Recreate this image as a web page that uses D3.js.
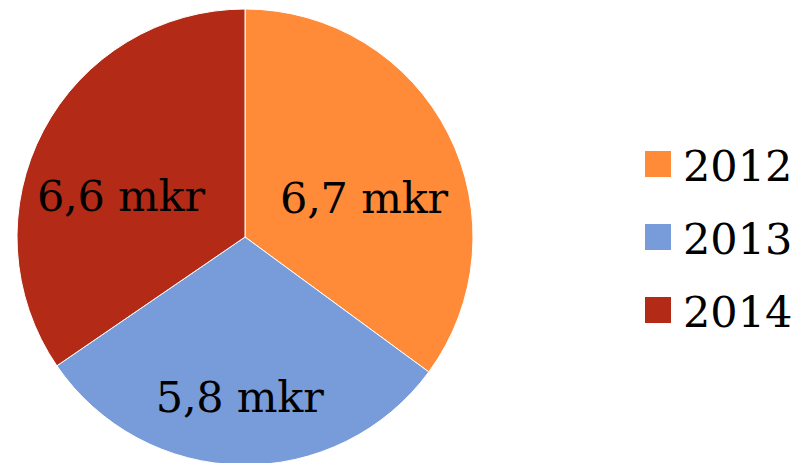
<!DOCTYPE html>
<html>
<head>
<meta charset="utf-8">
<script src="https://cdn.jsdelivr.net/npm/d3@7"></script>
<style>
  body { margin: 0; background: #fff; }
  text { font-family: "DejaVu Serif", serif; fill: #000; }
</style>
</head>
<body>
<svg width="801" height="463"></svg>
<script>
// Chart data
const years = ["2012", "2013", "2014"];
const values = [6.7, 5.8, 6.6];
const labels = ["6,7 mkr", "5,8 mkr", "6,6 mkr"];
const colors = ["#FF8A38", "#789BD9", "#B32B17"];

const svg = d3.select("svg");
const cx = 245, cy = 237, radius = 228;

const pie = d3.pie().sort(null).value(d => d);
const arcs = pie(values);
const arc = d3.arc().innerRadius(0).outerRadius(radius);
const labelArc = d3.arc().innerRadius(radius * 0.6).outerRadius(radius * 0.6);

const g = svg.append("g")
    .attr("transform", `translate(${cx},${cy})`);

g.selectAll("path")
  .data(arcs)
  .enter().append("path")
    .attr("d", arc)
    .attr("fill", (d, i) => colors[i])
    .attr("stroke", "#fff")
    .attr("stroke-width", 1);

g.selectAll("text")
  .data(arcs)
  .enter().append("text")
    .attr("transform", d => {
      const c = labelArc.centroid(d);
      return `translate(${c[0] - 3},${c[1] + 23})`;
    })
    .attr("text-anchor", "middle")
    .attr("dominant-baseline", "central")
    .attr("font-size", "43px")
    .attr("textLength", 168)
    .text((d, i) => labels[i]);

// Legend
const legend = svg.append("g")
    .attr("transform", "translate(645,151)");

const item = legend.selectAll("g")
  .data(years)
  .enter().append("g")
    .attr("transform", (d, i) => `translate(0,${i * 73})`);

item.append("rect")
    .attr("width", 26)
    .attr("height", 26)
    .attr("fill", (d, i) => colors[i]);

item.append("text")
    .attr("x", 38)
    .attr("y", 30)
    .attr("font-size", "43px")
    .text(d => d);
</script>
</body>
</html>
